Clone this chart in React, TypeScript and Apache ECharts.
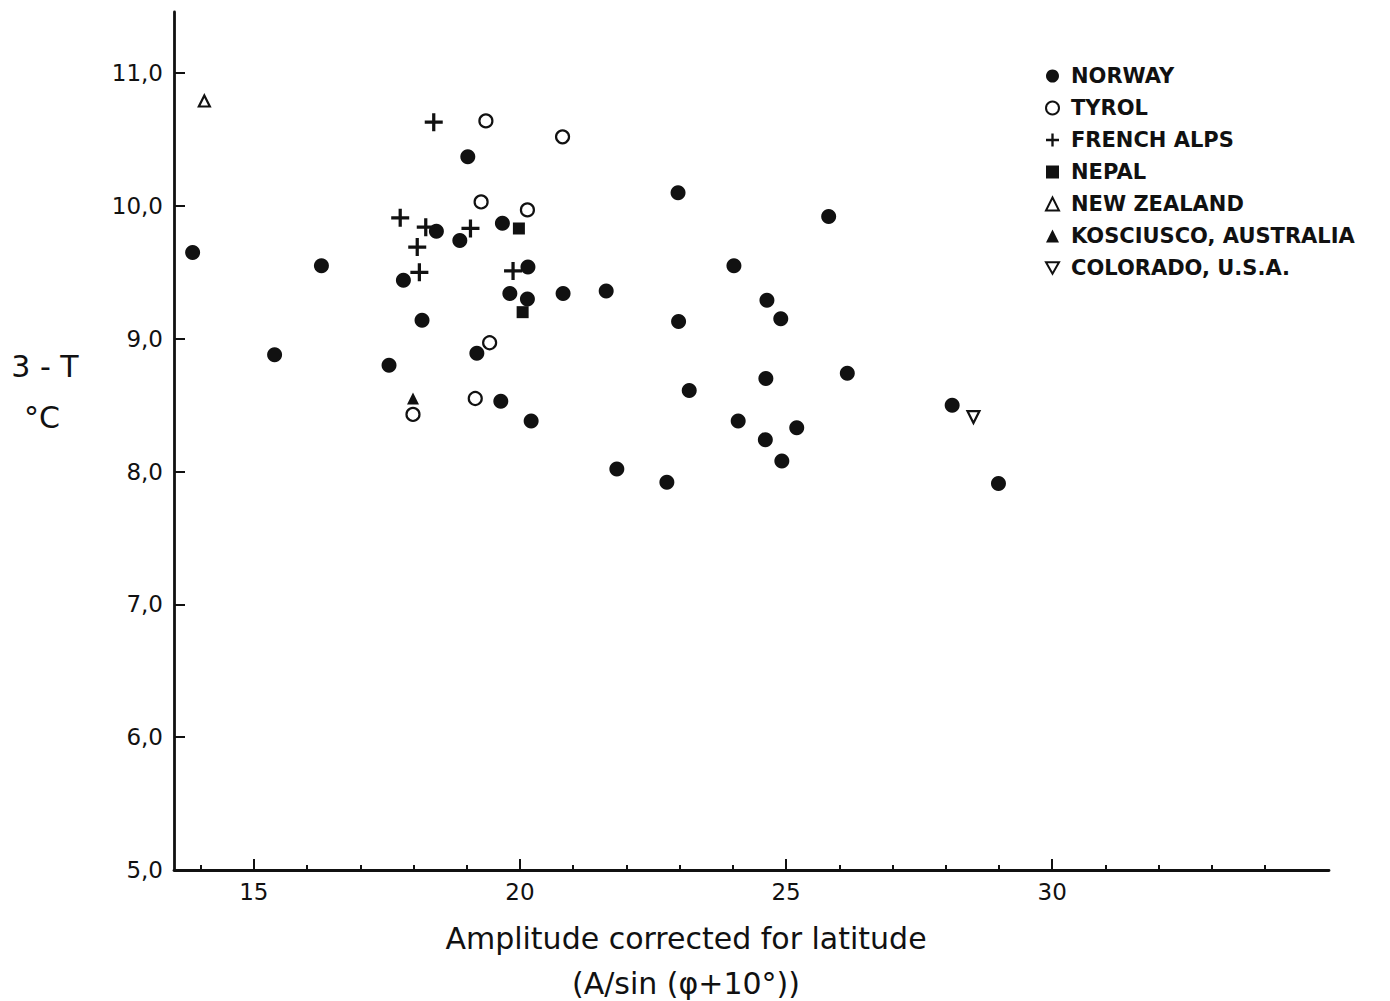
import React, { useEffect, useRef } from "react";
import * as echarts from "echarts";

const norway: [number, number][] = [
  [13.85, 9.65], [15.39, 8.88], [16.27, 9.55], [17.54, 8.8], [17.81, 9.44],
  [18.16, 9.14], [18.43, 9.81], [18.87, 9.74], [19.02, 10.37], [19.19, 8.89],
  [19.67, 9.87], [19.64, 8.53], [19.81, 9.34], [20.15, 9.54], [20.14, 9.3],
  [20.21, 8.38], [20.81, 9.34], [21.62, 9.36], [21.82, 8.02], [22.76, 7.92],
  [22.97, 10.1], [22.98, 9.13], [23.18, 8.61], [24.02, 9.55], [24.1, 8.38],
  [24.64, 9.29], [24.62, 8.7], [24.61, 8.24], [24.9, 9.15], [24.92, 8.08],
  [25.2, 8.33], [25.8, 9.92], [26.15, 8.74], [28.12, 8.5], [28.99, 7.91],
];
const tyrol: [number, number][] = [
  [19.36, 10.64], [20.8, 10.52], [19.27, 10.03], [20.14, 9.97],
  [19.43, 8.97], [19.16, 8.55], [17.99, 8.43],
];
const frenchAlps: [number, number][] = [
  [18.38, 10.63], [17.75, 9.91], [18.23, 9.84], [19.07, 9.83],
  [18.07, 9.69], [18.11, 9.5], [19.87, 9.51],
];
const nepal: [number, number][] = [[19.98, 9.83], [20.05, 9.2]];
const newZealand: [number, number][] = [[14.07, 10.79]];
const kosciusco: [number, number][] = [[17.99, 8.55]];
const colorado: [number, number][] = [[28.52, 8.41]];

const xMajorTicks = [15, 20, 25, 30];
const xMinorTicks = [14, 16, 17, 18, 19, 21, 22, 23, 24, 26, 27, 28, 29, 31, 32, 33, 34];
const yTicks = [5, 6, 7, 8, 9, 10, 11];

const INK = "#111111";
const FONT = "DejaVu Sans";
const PLUS = "path://M4.1,0H5.9V4.1H10V5.9H5.9V10H4.1V5.9H0V4.1H4.1Z";
const DOWN_TRI = "path://M0,0L10,0L5,8.66Z";

export default function App() {
  const ref = useRef<HTMLDivElement>(null);
  useEffect(() => {
    if (!ref.current) return;
    const chart = echarts.init(ref.current, undefined, { renderer: "svg" });
    const base = { type: "scatter", silent: true, emphasis: { disabled: true }, xAxisIndex: 0, yAxisIndex: 0 };
    const openStyle = { color: "#ffffff", borderColor: INK, borderWidth: 2.2, opacity: 1 };
    const solid = { color: INK, opacity: 1 };
    chart.setOption({
      animation: false,
      backgroundColor: "#ffffff",
      grid: { left: 174, right: 61, top: 12, bottom: 131, containLabel: false },
      legend: {
        orient: "vertical",
        left: 1040,
        top: 60,
        itemWidth: 13,
        itemHeight: 13,
        itemGap: 10,
        selectedMode: false,
        textStyle: {
          fontFamily: FONT,
          fontWeight: "bold",
          fontSize: 21,
          color: INK,
          lineHeight: 22,
          padding: [0, 0, 0, 7],
        },
        data: ["NORWAY", "TYROL", "FRENCH ALPS", "NEPAL", "NEW ZEALAND", "KOSCIUSCO, AUSTRALIA", "COLORADO, U.S.A."],
      },
      xAxis: [
        {
          type: "value",
          position: "bottom",
          offset: 0,
          min: 13.5,
          max: 35.2,
          axisLine: { show: true, onZero: false, lineStyle: { color: INK, width: 2.8 } },
          axisTick: { show: true, inside: true, length: 11, customValues: xMajorTicks, lineStyle: { color: INK, width: 2 } },
          axisLabel: { customValues: xMajorTicks, margin: 10, fontFamily: FONT, fontSize: 23, color: INK },
          splitLine: { show: false },
        },
        {
          type: "value",
          position: "bottom",
          offset: 0,
          min: 13.5,
          max: 35.2,
          axisLine: { show: false, onZero: false },
          axisTick: { show: true, inside: true, length: 5, customValues: xMinorTicks, lineStyle: { color: INK, width: 2 } },
          axisLabel: { show: false },
          splitLine: { show: false },
        },
      ],
      yAxis: {
        type: "value",
        min: 5,
        max: 11.46,
        axisLine: { show: true, onZero: false, lineStyle: { color: INK, width: 2.8 } },
        axisTick: { show: true, inside: true, length: 11, customValues: yTicks, lineStyle: { color: INK, width: 2 } },
        axisLabel: {
          customValues: yTicks,
          margin: 11,
          fontFamily: FONT,
          fontSize: 23,
          color: INK,
          formatter: (v: number) => v.toFixed(1).replace(".", ","),
        },
        splitLine: { show: false },
      },
      graphic: [
        { type: "text", x: 45, y: 366, style: { text: "3 - T", fill: INK, font: `30px '${FONT}'`, textAlign: "center", textVerticalAlign: "middle" } },
        { type: "text", x: 42, y: 417, style: { text: "°C", fill: INK, font: `30px '${FONT}'`, textAlign: "center", textVerticalAlign: "middle" } },
        { type: "text", x: 686, y: 938, style: { text: "Amplitude corrected for latitude", fill: INK, font: `30px '${FONT}'`, textAlign: "center", textVerticalAlign: "middle" } },
        { type: "text", x: 686, y: 983, style: { text: "(A/sin (φ+10°))", fill: INK, font: `30px '${FONT}'`, textAlign: "center", textVerticalAlign: "middle" } },
      ],
      series: [
        { ...base, name: "NORWAY", data: norway, symbol: "circle", symbolSize: 15, itemStyle: solid },
        { ...base, name: "TYROL", data: tyrol, symbol: "circle", symbolSize: 13, itemStyle: openStyle },
        { ...base, name: "FRENCH ALPS", data: frenchAlps, symbol: PLUS, symbolSize: 18, itemStyle: solid },
        { ...base, name: "NEPAL", data: nepal, symbol: "rect", symbolSize: 12, itemStyle: solid },
        { ...base, name: "NEW ZEALAND", data: newZealand, symbol: "triangle", symbolSize: 11, itemStyle: openStyle },
        { ...base, name: "KOSCIUSCO, AUSTRALIA", data: kosciusco, symbol: "triangle", symbolSize: 12, itemStyle: solid },
        { ...base, name: "COLORADO, U.S.A.", data: colorado, symbol: DOWN_TRI, symbolSize: 12, itemStyle: openStyle },
      ],
    });
    return () => chart.dispose();
  }, []);
  return (
    <div
      ref={ref}
      style={{ position: "fixed", left: 0, top: 0, width: 1390, height: 1001, background: "#ffffff" }}
    />
  );
}
